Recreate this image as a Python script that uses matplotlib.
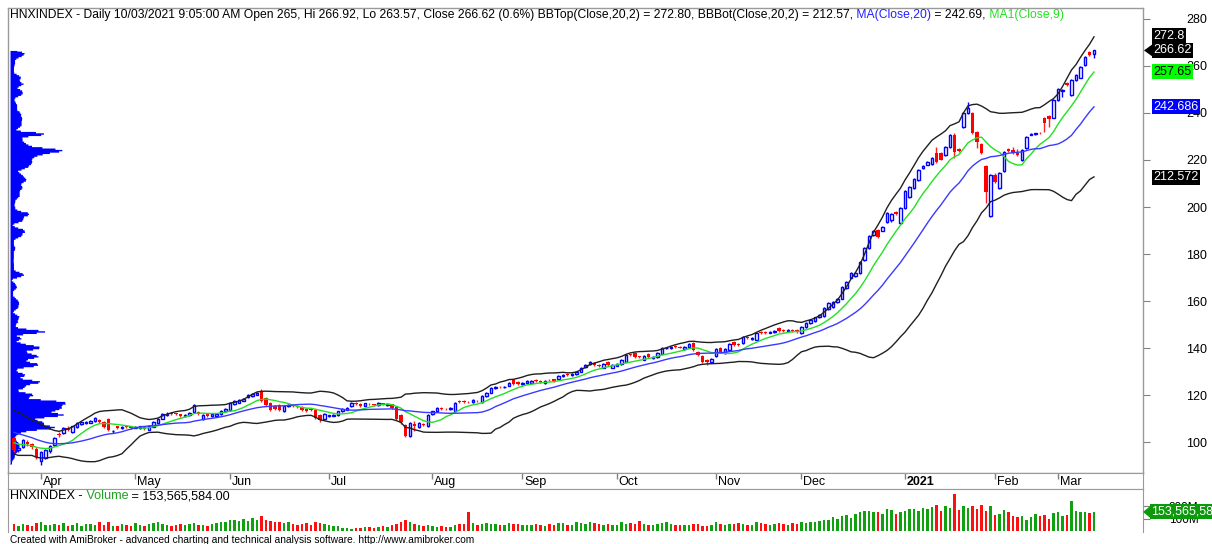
import matplotlib
matplotlib.use('Agg')
import matplotlib.pyplot as plt
import numpy as np
import pandas as pd
from matplotlib.transforms import blended_transform_factory
from matplotlib.patches import Polygon

plt.rcParams['font.family'] = ['Liberation Sans', 'DejaVu Sans']

# ---------------- data ----------------
prior_closes = [111.5, 110.8, 110.2, 110.9, 109.6, 108.7, 108.1, 107.4, 106.0, 105.2,
                104.6, 103.8, 103.0, 102.4, 101.0, 100.5, 99.6, 98.8, 98.0, 97.2]

opens = [101.7, 96.5, 98.0, 100.2, 99.2, 97.2, 92.0, 93.2, 96.0, 98.7,
         103.6, 104.0, 105.9, 104.3, 106.2, 107.7, 108.0, 108.2, 108.9, 109.4,
         108.6, 110.0, 104.5, 106.6, 105.8, 106.8, 106.6, 106.1, 105.9, 106.3,
         105.2, 106.5, 108.0, 110.0, 111.6, 112.4, 112.2, 111.8, 111.0, 111.4,
         112.8, 112.6, 109.6, 112.0, 111.0, 110.9, 112.0, 113.2, 113.6, 116.2,
         116.8, 117.6, 119.0, 119.6, 120.2, 121.2, 118.7, 116.6, 115.2, 115.7,
         113.0, 115.4, 115.6, 115.3, 115.0, 114.2, 113.8, 113.6, 111.5, 109.8,
         111.0, 111.2, 111.5, 113.0, 113.8, 115.4, 116.6, 116.0, 115.5, 116.2,
         116.0, 115.6, 116.5, 115.6, 116.0, 115.0, 111.4, 107.2, 102.6, 107.6,
         106.4, 107.8, 106.8, 112.0, 113.0, 114.5, 114.2, 114.0, 113.2, 117.3,
         117.4, 117.2, 117.0, 117.6, 117.0, 119.5, 121.0, 122.8, 123.6, 123.2,
         124.0, 126.4, 125.5, 124.5, 125.0, 125.3, 126.2, 125.8, 125.0, 126.4,
         126.6, 127.0, 128.0, 128.8, 128.4, 129.0, 130.0, 132.0, 133.0, 133.6,
         132.8, 131.6, 134.0, 131.6, 132.5, 133.2, 134.2, 137.2, 138.0, 136.4,
         135.0, 137.4, 135.8, 136.0, 137.6, 139.8, 140.0, 140.7, 140.4, 139.6,
         140.6, 142.0, 138.4, 136.6, 135.0, 134.0, 136.4, 140.0, 137.9, 139.2,
         142.5, 141.7, 142.0, 144.6, 143.8, 143.6, 146.8, 146.7, 146.5, 146.8,
         148.5, 147.6, 147.2, 147.8, 147.5, 146.4, 149.0, 150.6, 151.5, 153.0,
         153.6, 156.6, 157.4, 159.6, 161.0, 165.5, 170.0, 170.5, 172.0, 177.4,
         182.5, 188.0, 190.2, 190.0, 193.6, 194.4, 198.0, 193.2, 199.6, 204.2,
         208.0, 211.5, 216.6, 218.0, 218.3, 223.0, 223.0, 222.0, 225.5, 230.6,
         224.6, 234.0, 240.0, 240.2, 232.0, 227.0, 217.4, 196.2, 213.6, 208.0,
         215.3, 224.6, 224.2, 223.0, 220.0, 225.0, 230.8, 231.0, 231.6, 237.9,
         238.7, 238.0, 245.5, 249.2, 252.8, 247.7, 254.0, 255.0, 260.4, 266.0,
         265.0]

closes = [96.6, 97.5, 100.8, 99.0, 98.0, 93.8, 95.6, 96.4, 98.2, 101.6,
          102.9, 106.0, 105.3, 106.6, 107.9, 108.3, 108.6, 108.8, 110.2, 108.4,
          106.5, 105.2, 104.8, 106.0, 106.4, 106.2, 106.0, 106.3, 106.6, 105.6,
          106.9, 108.6, 110.0, 112.0, 112.1, 111.9, 112.0, 111.1, 111.4, 112.5,
          115.6, 112.1, 111.6, 111.2, 112.0, 111.8, 113.2, 114.0, 116.6, 117.3,
          117.8, 118.4, 120.2, 120.4, 120.8, 117.4, 115.8, 113.8, 114.2, 113.6,
          115.4, 115.6, 115.2, 115.0, 113.8, 113.0, 113.6, 110.2, 109.2, 111.8,
          111.3, 111.6, 113.0, 114.0, 114.6, 116.6, 116.0, 115.5, 116.4, 116.0,
          115.9, 116.5, 116.2, 116.0, 114.6, 109.6, 108.6, 102.6, 108.0, 106.8,
          108.0, 107.3, 111.6, 113.0, 114.4, 114.2, 114.0, 114.6, 116.6, 116.9,
          117.1, 116.9, 117.8, 117.4, 119.5, 121.0, 123.0, 123.4, 123.3, 123.5,
          125.0, 124.8, 124.6, 125.1, 126.0, 125.8, 125.8, 125.4, 126.0, 126.2,
          126.0, 128.0, 128.6, 128.6, 129.0, 130.0, 131.5, 132.8, 134.0, 132.6,
          132.4, 133.4, 132.6, 132.8, 133.2, 135.0, 137.0, 137.0, 136.2, 136.0,
          136.6, 136.2, 136.2, 137.9, 140.0, 140.2, 140.6, 140.3, 140.2, 140.4,
          141.7, 139.2, 137.0, 134.2, 134.0, 135.4, 139.6, 138.4, 139.5, 141.6,
          141.4, 141.3, 144.6, 144.2, 144.2, 146.4, 146.5, 146.4, 146.9, 147.2,
          147.1, 147.3, 147.6, 147.3, 146.6, 149.0, 150.6, 152.0, 153.0, 154.0,
          157.0, 159.0, 159.6, 161.0, 166.0, 168.0, 171.8, 172.0, 176.6, 182.5,
          187.7, 190.0, 187.2, 191.5, 197.4, 197.0, 197.2, 199.6, 207.0, 208.5,
          212.0, 215.7, 217.4, 219.2, 221.0, 219.2, 220.2, 225.5, 230.6, 223.4,
          224.0, 240.0, 242.0, 231.5, 227.7, 223.0, 206.4, 213.6, 210.6, 214.5,
          223.4, 224.0, 223.0, 222.0, 224.2, 229.8, 231.2, 231.3, 231.3, 235.7,
          237.4, 245.5, 250.4, 249.8, 252.0, 254.0, 256.0, 259.6, 263.8, 264.7,
          266.62]

highs = [102.2, 98.0, 101.2, 100.9, 99.6, 97.8, 96.0, 96.9, 98.6, 102.0,
         104.2, 106.5, 106.6, 107.0, 108.3, 108.7, 109.0, 109.3, 110.6, 109.9,
         108.9, 110.4, 105.3, 107.0, 106.8, 107.2, 106.9, 106.7, 107.0, 106.6,
         107.3, 109.0, 110.4, 112.4, 112.6, 112.8, 112.5, 112.1, 111.8, 112.9,
         116.0, 113.0, 112.0, 112.4, 112.4, 112.2, 113.6, 114.4, 117.0, 117.7,
         118.2, 118.8, 120.6, 120.8, 121.3, 122.4, 119.1, 117.0, 115.6, 116.0,
         115.8, 116.0, 115.9, 115.6, 115.3, 114.5, 114.1, 113.9, 111.8, 112.2,
         111.7, 112.0, 113.4, 114.4, 115.0, 117.0, 117.0, 116.4, 116.8, 116.5,
         116.3, 116.9, 116.8, 116.4, 116.3, 115.3, 111.8, 107.6, 108.4, 109.0,
         108.4, 108.2, 112.0, 113.4, 114.8, 114.9, 114.6, 115.0, 117.0, 117.7,
         117.8, 117.6, 118.2, 118.0, 119.9, 121.4, 123.4, 123.8, 124.0, 123.9,
         125.4, 126.8, 125.9, 125.5, 126.4, 126.2, 126.6, 126.2, 126.4, 126.8,
         127.0, 128.4, 129.0, 129.2, 129.4, 130.4, 131.9, 133.2, 134.4, 134.0,
         133.2, 133.8, 134.4, 133.2, 133.6, 135.4, 137.4, 137.6, 138.4, 136.8,
         137.0, 137.8, 136.6, 138.3, 140.4, 140.6, 141.0, 141.1, 140.8, 140.8,
         142.1, 142.4, 138.8, 137.0, 135.3, 135.8, 140.0, 140.4, 139.9, 142.0,
         142.9, 142.1, 145.0, 145.0, 144.6, 146.8, 147.2, 147.1, 147.3, 147.6,
         148.9, 148.0, 148.0, 148.2, 147.9, 149.4, 151.0, 152.4, 153.4, 154.4,
         157.4, 159.4, 160.0, 161.4, 166.4, 168.4, 172.2, 172.4, 177.0, 182.9,
         188.1, 190.4, 190.6, 191.9, 197.8, 197.4, 198.4, 200.0, 207.4, 208.9,
         212.4, 216.1, 217.8, 219.6, 221.4, 225.4, 223.4, 225.9, 231.0, 231.6,
         225.0, 240.4, 244.7, 240.6, 232.4, 227.4, 217.8, 214.0, 214.5, 214.9,
         223.8, 225.0, 225.5, 224.5, 224.6, 230.2, 231.6, 231.7, 232.0, 238.3,
         239.1, 245.9, 250.8, 250.2, 253.2, 254.4, 256.4, 260.0, 264.2, 266.4,
         266.92]

lows = [95.8, 95.9, 97.6, 98.5, 97.2, 92.8, 90.2, 92.6, 95.5, 98.2,
        102.0, 103.6, 104.8, 103.9, 105.8, 107.2, 107.6, 107.9, 108.5, 108.0,
        106.0, 104.8, 104.0, 105.6, 105.4, 105.8, 105.6, 105.8, 105.5, 105.1,
        104.9, 106.2, 107.7, 109.7, 111.2, 111.5, 111.6, 110.7, 110.6, 111.0,
        112.4, 111.6, 109.2, 110.8, 110.6, 110.5, 111.7, 112.9, 113.3, 115.9,
        116.4, 117.3, 118.7, 119.3, 119.9, 117.0, 115.4, 113.4, 113.8, 113.2,
        112.6, 115.0, 114.8, 114.6, 113.4, 112.6, 113.2, 109.8, 108.4, 109.4,
        110.7, 110.9, 111.2, 112.7, 113.5, 115.1, 115.7, 115.1, 115.2, 115.7,
        115.5, 115.3, 115.9, 115.3, 114.2, 109.2, 107.6, 102.0, 102.2, 104.6,
        106.0, 106.9, 106.5, 111.7, 112.7, 113.8, 113.6, 113.7, 112.9, 116.5,
        116.7, 116.5, 116.7, 117.0, 116.7, 119.2, 120.7, 122.5, 122.9, 122.9,
        123.7, 124.4, 124.2, 124.2, 124.7, 125.0, 125.4, 125.0, 124.7, 125.8,
        125.6, 126.7, 127.7, 128.2, 128.1, 128.7, 129.7, 131.7, 132.7, 132.2,
        132.0, 131.3, 132.2, 131.3, 132.2, 132.9, 133.9, 136.6, 135.8, 135.6,
        134.7, 135.8, 135.5, 135.7, 137.3, 139.5, 139.7, 139.9, 139.8, 139.3,
        140.3, 138.8, 136.6, 133.8, 132.8, 133.7, 136.1, 138.0, 137.6, 138.9,
        141.0, 140.9, 141.7, 143.8, 143.5, 143.3, 146.1, 146.0, 146.2, 146.5,
        146.7, 146.9, 146.9, 146.9, 146.2, 146.1, 148.7, 150.3, 151.2, 152.7,
        153.3, 156.3, 157.1, 159.3, 160.7, 165.2, 169.7, 170.2, 171.7, 177.1,
        182.2, 187.7, 186.8, 189.7, 193.3, 193.6, 196.8, 192.9, 199.3, 203.9,
        207.7, 211.2, 216.2, 217.7, 218.0, 218.8, 219.8, 221.7, 225.2, 221.0,
        223.6, 233.7, 239.7, 231.1, 225.0, 222.6, 201.7, 195.7, 210.2, 207.7,
        215.0, 223.6, 222.6, 221.6, 219.7, 224.7, 230.5, 230.7, 230.9, 232.0,
        234.0, 237.7, 245.2, 247.0, 251.6, 247.4, 253.7, 254.7, 260.1, 264.3,
        263.57]

volumes_m = [55, 40, 60, 45, 38, 62, 70, 48, 52, 58,
             45, 65, 42, 50, 68, 40, 55, 60, 45, 72,
             50, 75, 42, 38, 55, 48, 40, 62, 45, 38,
             58, 65, 70, 55, 50, 42, 48, 60, 45, 55,
             65, 48, 52, 40, 58, 62, 70, 75, 85, 90,
             82, 95, 78, 105, 88, 118, 92, 80, 75, 70,
             65, 72, 55, 50, 58, 62, 48, 70, 65, 55,
             45, 40, 38, 25, 22, 20, 28, 22, 35, 30,
             25, 32, 40, 35, 45, 60, 75, 85, 70, 55,
             45, 40, 52, 38, 35, 42, 30, 35, 48, 55,
             60, 150, 62, 48, 58, 65, 55, 60, 52, 48,
             62, 58, 55, 45, 52, 48, 60, 45, 40, 55,
             50, 62, 65, 48, 52, 70, 68, 58, 75, 65,
             55, 48, 60, 45, 52, 72, 58, 62, 55, 78,
             60, 52, 48, 58, 62, 70, 55, 50, 48, 45,
             52, 60, 58, 42, 38, 45, 72, 55, 48, 60,
             55, 62, 58, 50, 45, 70, 62, 58, 52, 55,
             65, 58, 50, 62, 55, 70, 68, 75, 72, 80,
             90, 85, 110, 95, 120, 130, 105, 140, 150, 160,
             165, 155, 150, 140, 175, 170, 135, 150, 160, 175,
             180, 165, 185, 175, 195, 210, 160, 200, 185, 300,
             170, 205, 185, 200, 175, 210, 165, 200, 130, 140,
             170, 150, 120, 115, 125, 90, 110, 140, 120, 130,
             100, 145, 150, 125, 130, 245, 160, 150, 155, 148,
             153.565584]

month_labels = ['Apr', 'May', 'Jun', 'Jul', 'Aug', 'Sep', 'Oct', 'Nov', 'Dec', '2021', 'Feb', 'Mar']
month_idx = [6, 27, 48, 70, 93, 113, 134, 156, 175, 198, 218, 232]

price_ticks = [100, 120, 140, 160, 180, 200, 220, 240, 260, 280]
vol_ticks_m = [100, 200]
vol_tick_labels = ['100M', '200M']

label_values = [272.8, 266.62, 257.65, 242.686, 212.572]
label_texts = ['272.8', '266.62', '257.65', '242.686', '212.572']
label_bg = ['black', 'black', '#00ff00', '#0000ff', 'black']
label_fg = ['white', 'white', 'black', 'white', 'white']
label_arrow = [False, True, False, False, False]

title_parts = [
    ('HNXINDEX - Daily 10/03/2021 9:05:00 AM Open 265, Hi 266.92, Lo 263.57, Close 266.62 (0.6%) '
     'BBTop(Close,20,2) = 272.80, BBBot(Close,20,2) = 212.57,', 'black'),
    (' MA(Close,20)', '#2020ff'),
    (' = 242.69,', 'black'),
    (' MA1(Close,9)', '#22e022'),
]
vol_title_parts = [('HNXINDEX -', 'black'), (' Volume', '#22a022'), (' = 153,565,584.00', 'black')]
vol_last_label = '153,565,584'
footer = 'Created with AmiBroker - advanced charting and technical analysis software. http://www.amibroker.com'

# ---------------- figure ----------------
W, H = 1212, 544
fig = plt.figure(figsize=(W / 100, H / 100), dpi=100)
fig.patch.set_facecolor('white')


def px_axes(l, t, r, b):
    return fig.add_axes([l / W, 1 - b / H, (r - l) / W, (b - t) / H])


o = np.array(opens); c = np.array(closes); h = np.array(highs); lo = np.array(lows)
v = np.array(volumes_m) * 1e6
n = len(c)
idx = np.arange(n)
up = c >= o

allc = pd.Series(prior_closes + closes)
ma20 = allc.rolling(20).mean()
sd20 = allc.rolling(20).std(ddof=0)
bbt = (ma20 + 2 * sd20).values[len(prior_closes):]
bbb = (ma20 - 2 * sd20).values[len(prior_closes):]
ma9 = allc.rolling(9).mean().values[len(prior_closes):]
ma20 = ma20.values[len(prior_closes):]

XL = (-1.333, 250.89)
spine_c = '#9a9a9a'

# ---- main price pane ----
ax = px_axes(8, 8, 1143, 473)
ax.set_xlim(*XL)
ax.set_ylim(86.81, 284.68)

# volume-at-price profile (volume spread over each bar's range, 300 lines)
nb = 300
edges = np.linspace(lo.min(), h.max(), nb + 1)
vap = np.zeros(nb)
for i in range(n):
    ov = np.clip(np.minimum(edges[1:], h[i]) - np.maximum(edges[:-1], lo[i]), 0, None)
    vap += v[i] * ov / max(h[i] - lo[i], 1e-6)
vap = np.convolve(vap, np.ones(3) / 3, mode='same')
centers = (edges[:-1] + edges[1:]) / 2
trans_vap = blended_transform_factory(ax.transAxes, ax.transData)
x0 = 0.0018
ax.fill_betweenx(centers, x0, x0 + vap / vap.max() * 0.0485, step='mid',
                 color='#0000ff', lw=0, transform=trans_vap, zorder=1)

# candles
ax.vlines(idx[up], lo[up], h[up], color='#0000ff', lw=1, zorder=3)
ax.vlines(idx[~up], lo[~up], h[~up], color='#ff2020', lw=1, zorder=3)
ax.bar(idx[up], np.maximum((c - o)[up], 0.25), bottom=o[up], width=0.62,
       facecolor='white', edgecolor='#0000ff', lw=1, zorder=4)
ax.bar(idx[~up], np.maximum((o - c)[~up], 0.25), bottom=c[~up], width=0.82,
       color='#ff0000', lw=0, zorder=4)

# indicators
ax.plot(idx, ma9, color='#22e022', lw=1, zorder=5)
ax.plot(idx, ma20, color='#3a3aff', lw=1, zorder=5)
ax.plot(idx, bbt, color='#202020', lw=1, zorder=5)
ax.plot(idx, bbb, color='#202020', lw=1, zorder=5)

ax.yaxis.tick_right()
ax.set_yticks(price_ticks)
ax.set_yticklabels([str(t) for t in price_ticks])
ax.tick_params(axis='y', right=True, left=False, length=5, color='#808080', pad=41,
               labelsize=9, labelcolor='black')
for lab in ax.get_yticklabels():
    lab.set_horizontalalignment('right')
ax.set_xticks([])
for s in ax.spines.values():
    s.set_color(spine_c)
    s.set_linewidth(1)

# title with coloured parts
t = ax.text(0.0018, 0.985, title_parts[0][0], transform=ax.transAxes, color=title_parts[0][1],
            fontsize=8.7, va='center', ha='left', zorder=10)
for s, col in title_parts[1:]:
    t = ax.annotate(s, xy=(1, 0), xycoords=t, va='bottom', ha='left', color=col,
                    fontsize=8.7, zorder=10)

# right-side value labels
tr_lab = blended_transform_factory(fig.transFigure, ax.transData)
for val, txt, bg, fg, arr in zip(label_values, label_texts, label_bg, label_fg, label_arrow):
    ax.text(1153 / W, val, txt, transform=tr_lab, color=fg, fontsize=9, va='center', ha='left',
            bbox=dict(boxstyle='square,pad=0.12', fc=bg, ec='none'), zorder=20, clip_on=False)
    if arr:
        d = 6.5 / 2.35
        ax.add_patch(Polygon([(1144 / W, val), (1153 / W, val + d), (1153 / W, val - d)],
                             closed=True, transform=tr_lab, fc=bg, ec='none', clip_on=False, zorder=20))

# ---- date strip ----
axd = px_axes(8, 473, 1143, 489)
axd.set_xlim(*XL)
axd.set_ylim(0, 1)
axd.set_xticks([]); axd.set_yticks([])
for s in axd.spines.values():
    s.set_color(spine_c)
for m, i in zip(month_labels, month_idx):
    axd.vlines(i, 0.6, 1.0, color='#808080', lw=1)
    axd.text(i + 0.4, 0.42, m, ha='left', va='center', fontsize=9,
             fontweight='bold' if m == '2021' else 'normal')

# ---- volume pane ----
axv = px_axes(8, 489, 1143, 532)
axv.set_xlim(*XL)
axv.set_ylim(-8e6, 338.7e6)
vcol = np.where(up, '#10a010', '#ff1010')
axv.bar(idx, v, width=0.45, color=vcol, lw=0)
axv.yaxis.tick_right()
axv.set_yticks([x * 1e6 for x in vol_ticks_m])
axv.set_yticklabels(vol_tick_labels)
axv.tick_params(axis='y', right=True, left=False, length=5, color='#808080', pad=35,
                labelsize=8.5)
for lab in axv.get_yticklabels():
    lab.set_horizontalalignment('right')
axv.set_xticks([])
for k, s in axv.spines.items():
    s.set_color(spine_c)
axv.spines['bottom'].set_visible(False)

t = axv.text(0.0018, 0.83, vol_title_parts[0][0], transform=axv.transAxes, color=vol_title_parts[0][1],
             fontsize=9.1, va='center', ha='left')
for s, col in vol_title_parts[1:]:
    t = axv.annotate(s, xy=(1, 0), xycoords=t, va='bottom', ha='left', color=col, fontsize=9.1)

tr_v = blended_transform_factory(fig.transFigure, axv.transData)
vl = v[-1]
axv.text(1151 / W, vl, vol_last_label, transform=tr_v, color='white', fontsize=9, va='center', ha='left',
         bbox=dict(boxstyle='square,pad=0.12', fc='#0a9a0a', ec='none'), zorder=20, clip_on=False)
dv = 6.5 / 12.4 * 100e6
axv.add_patch(Polygon([(1143 / W, vl), (1151 / W, vl + dv), (1151 / W, vl - dv)], closed=True,
                      transform=tr_v, fc='#0a9a0a', ec='none', clip_on=False, zorder=20))

fig.text(10 / W, 1 - 540 / H, footer, fontsize=7.3, va='center', ha='left', color='black')

fig.savefig('out.png', dpi=100, facecolor='white')
